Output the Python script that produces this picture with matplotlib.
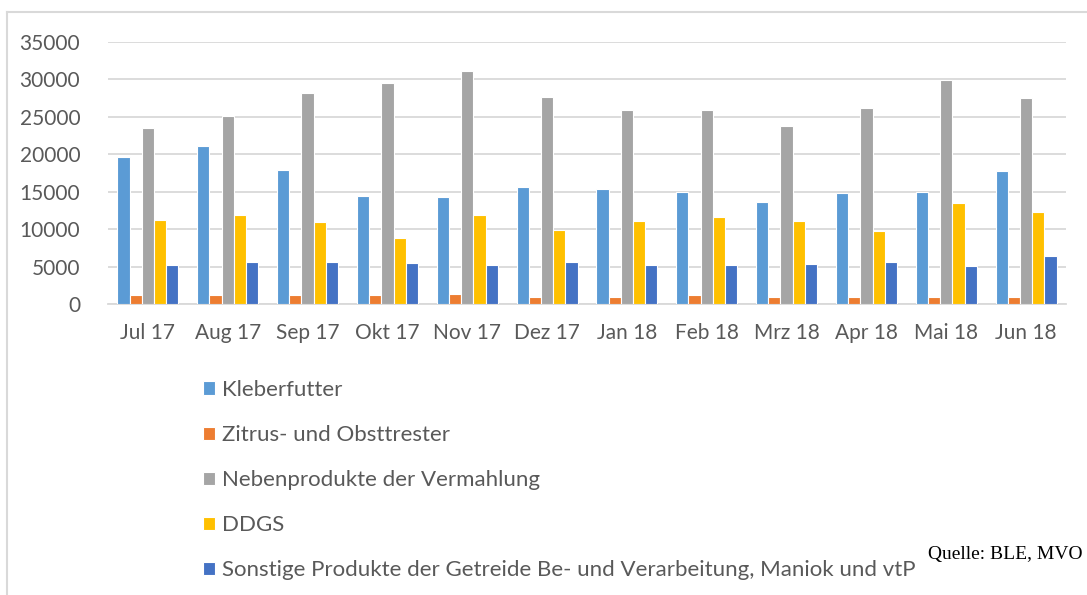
import matplotlib
matplotlib.use("Agg")
import matplotlib.pyplot as plt
import numpy as np
from matplotlib.lines import Line2D

months = ["Jul 17", "Aug 17", "Sep 17", "Okt 17", "Nov 17", "Dez 17",
          "Jan 18", "Feb 18", "Mrz 18", "Apr 18", "Mai 18", "Jun 18"]

kleberfutter = [19600, 21100, 17900, 14450, 14270, 15650, 15300, 14980, 13600, 14800, 14980, 17700]
zitrus = [1150, 1150, 1150, 1150, 1300, 1000, 1000, 1150, 1000, 1000, 1000, 1000]
nebenprodukte = [23550, 25100, 28150, 29500, 31050, 27650, 25950, 25950, 23700, 26100, 29900, 27450]
ddgs = [11200, 11850, 10900, 8800, 11850, 9850, 11050, 11550, 11050, 9700, 13450, 12250]
sonstige = [5200, 5550, 5550, 5500, 5200, 5550, 5200, 5200, 5400, 5550, 5050, 6400]

series_names = ["Kleberfutter", "Zitrus- und Obsttrester", "Nebenprodukte der Vermahlung",
                "DDGS", "Sonstige Produkte der Getreide Be- und Verarbeitung, Maniok und vtP"]
series_values = [kleberfutter, zitrus, nebenprodukte, ddgs, sonstige]
colors = ["#5B9BD5", "#ED7D31", "#A5A5A5", "#FFC000", "#4472C4"]

yticks = [0, 5000, 10000, 15000, 20000, 25000, 30000, 35000]

plt.rcParams['font.family'] = ['Lato', 'DejaVu Sans']

fig = plt.figure(figsize=(10.87, 5.95), dpi=100)
ax = fig.add_axes([108/1087, 1-304/595, (1066-108)/1087, (304-41.7)/595])

x = np.arange(len(months))
pitch = 0.153
handles = []
for i, (name, vals, c) in enumerate(zip(series_names, series_values, colors)):
    b = ax.bar(x + (i - 2) * pitch, vals, width=pitch, color=c,
               edgecolor="white", linewidth=0.8, label=name, zorder=3)
    handles.append(b)

ax.set_xlim(-0.5, len(months) - 0.5)
ax.set_ylim(0, 35000)
ax.set_yticks(yticks)
ax.set_yticklabels([str(v) for v in yticks])
ax.set_xticks(x)
ax.set_xticklabels(months)
ax.grid(axis="y", color="#D9D9D9", linewidth=1.3, zorder=0)
ax.set_axisbelow(True)
for s in ["top", "right", "left"]:
    ax.spines[s].set_visible(False)
ax.spines["bottom"].set_color("#D9D9D9")
ax.spines["bottom"].set_linewidth(1.3)
ax.tick_params(axis="both", length=0, colors="#595959", labelsize=15)
ax.tick_params(axis="y", pad=20)
ax.tick_params(axis="x", pad=14)

leg = fig.legend(handles=handles, loc="upper left", bbox_to_anchor=(203/1087, 1-380/595),
                 ncol=1, frameon=False, fontsize=16, handlelength=0.55, handleheight=0.55,
                 handletextpad=0.3, labelspacing=1.13, borderaxespad=0, borderpad=0)
for t in leg.get_texts():
    t.set_color("#595959")

fig.text(1083/1087, 1-555/595, "Quelle: BLE, MVO", ha="right", va="center",
         fontsize=14, family=["Liberation Serif"], color="black")

# outer frame (top and left edges)
fig.add_artist(Line2D([7/1087, 1.0], [1-12/595, 1-12/595], color="#D9D9D9", linewidth=1.5,
                      transform=fig.transFigure))
fig.add_artist(Line2D([7/1087, 7/1087], [0, 1-12/595], color="#D9D9D9", linewidth=1.5,
                      transform=fig.transFigure))

fig.savefig("out.png", dpi=100)
